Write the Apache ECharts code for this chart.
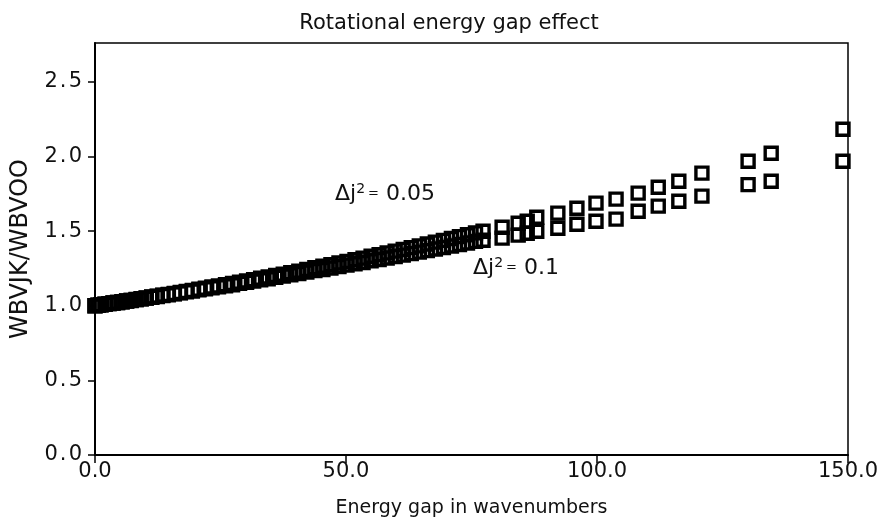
<!DOCTYPE html>
<html>
<head>
<meta charset="utf-8">
<script src="https://cdn.jsdelivr.net/npm/echarts@6/dist/echarts.min.js"></script>
<style>html,body{margin:0;padding:0;background:#fff}#c{width:878px;height:517px}</style>
</head>
<body>
<div id="c"></div>
<script>
// Energy gap (wavenumbers)
var energyGap = [0, 0.6, 1.2, 2.0, 2.8, 3.6, 4.5, 5.4, 6.3, 7.2, 8.2, 9.2, 10.2, 11.3, 12.4, 13.5, 14.6, 15.8, 17.0, 18.2, 19.4, 20.7, 22.0, 23.3, 24.6, 26.0, 27.4, 28.8, 30.2, 31.6, 33.0, 34.5, 36.0, 37.5, 39.0, 40.6, 42.2, 43.8, 45.4, 47.0, 48.6, 50.2, 51.8, 53.4, 55.0, 56.6, 58.2, 59.8, 61.4, 63.0, 64.6, 66.2, 67.8, 69.4, 71.0, 72.6, 74.2, 75.8,
  77.3, 81.1, 84.3, 86.1, 88.0, 92.2, 96.0, 99.8, 103.8, 108.2, 112.2, 116.3, 120.9, 130.1, 134.7, 149.0];
// WBVJK/WBVOO for delta j^2 = 0.05
var ratio005 = [1.000, 1.003, 1.006, 1.010, 1.014, 1.018, 1.022, 1.027, 1.032, 1.036, 1.042, 1.047, 1.052, 1.058, 1.064, 1.070, 1.076, 1.082, 1.089, 1.096, 1.103, 1.110, 1.118, 1.125, 1.133, 1.141, 1.149, 1.158, 1.166, 1.175, 1.184, 1.193, 1.203, 1.212, 1.222, 1.232, 1.243, 1.254, 1.264, 1.275, 1.286, 1.297, 1.308, 1.319, 1.331, 1.342, 1.354, 1.366, 1.377, 1.389, 1.401, 1.413, 1.426, 1.438, 1.450, 1.463, 1.475, 1.488,
  1.499, 1.526, 1.553, 1.566, 1.593, 1.620, 1.653, 1.687, 1.714, 1.754, 1.794, 1.834, 1.888, 1.968, 2.021, 2.182];
// WBVJK/WBVOO for delta j^2 = 0.1
var ratio01 = [1.000, 1.003, 1.006, 1.010, 1.014, 1.018, 1.022, 1.027, 1.032, 1.035, 1.041, 1.046, 1.051, 1.057, 1.062, 1.068, 1.074, 1.080, 1.086, 1.093, 1.099, 1.106, 1.113, 1.120, 1.127, 1.134, 1.141, 1.150, 1.157, 1.165, 1.173, 1.181, 1.190, 1.198, 1.207, 1.216, 1.225, 1.235, 1.243, 1.253, 1.262, 1.272, 1.281, 1.290, 1.301, 1.310, 1.320, 1.330, 1.339, 1.349, 1.359, 1.369, 1.380, 1.390, 1.400, 1.410, 1.420, 1.431,
  1.439, 1.453, 1.473, 1.486, 1.499, 1.519, 1.546, 1.566, 1.580, 1.633, 1.667, 1.700, 1.734, 1.811, 1.834, 1.968];
var xTicks = [0, 50, 100, 150];
var yTicks = [0, 0.5, 1.0, 1.5, 2.0, 2.5];

function pairs(xs, ys) { return xs.map(function (x, i) { return [x, ys[i]]; }); }
function spaced(s) { return s.split('').join('\u200A'); }

var FONT = 'DejaVu Sans';
var chart = echarts.init(document.getElementById('c'), null, {renderer: 'canvas'});
var markerStyle = {color: 'rgba(0,0,0,0)', borderColor: '#000', borderWidth: 3.4, opacity: 1};
var rich = {s: {fontSize: 14, verticalAlign: 'top', padding: [0, 3, 10, 0], fontFamily: FONT, color: '#111'},
            e: {fontSize: 13, fontFamily: FONT, color: '#111'}};
chart.setOption({
  animation: false,
  backgroundColor: '#fff',
  title: {
    text: 'Rotational energy gap effect',
    left: 444, textAlign: 'center', top: 8,
    textStyle: {fontFamily: FONT, fontSize: 21, fontWeight: 'normal', color: '#111'}
  },
  grid: {left: 95, right: 30, top: 43, bottom: 62, show: true, borderColor: '#000', borderWidth: 1.5,
    backgroundColor: 'transparent', containLabel: false, outerBoundsMode: 'none'},
  xAxis: {
    type: 'value', min: 0, max: 150, interval: 50,
    name: 'Energy gap in wavenumbers', nameLocation: 'middle', nameGap: 44,
    nameTextStyle: {fontFamily: FONT, fontSize: 19, color: '#111'},
    axisLine: {show: true, lineStyle: {color: '#000', width: 2}},
    axisTick: {show: true, inside: false, length: 8, lineStyle: {color: '#000', width: 1.5}},
    axisLabel: {fontFamily: FONT, fontSize: 21, color: '#111', margin: 6,
      formatter: function (v) { return xTicks.indexOf(v) >= 0 ? v.toFixed(1) : ''; }},
    splitLine: {show: false}
  },
  yAxis: {
    type: 'value', min: 0, max: 2.76, interval: 0.5,
    name: 'WBVJK/WBVOO', nameLocation: 'middle', nameGap: 62,
    nameTextStyle: {fontFamily: FONT, fontSize: 24, color: '#111'},
    axisLine: {show: true, lineStyle: {color: '#000', width: 2}},
    axisTick: {show: true, inside: false, length: 7, lineStyle: {color: '#000', width: 1.5}},
    axisLabel: {fontFamily: FONT, fontSize: 21, color: '#111', margin: 13, showMaxLabel: false,
      formatter: function (v) {
        var r = Math.round(v * 10) / 10;
        return yTicks.indexOf(r) >= 0 && Math.abs(r - v) < 1e-6 ? spaced(r.toFixed(1)) : '';
      }},
    splitLine: {show: false}
  },
  series: [
    {type: 'scatter', name: 'dj2=0.05', data: pairs(energyGap, ratio005), symbol: 'rect', symbolSize: 12, itemStyle: markerStyle, clip: false},
    {type: 'scatter', name: 'dj2=0.1', data: pairs(energyGap, ratio01), symbol: 'rect', symbolSize: 12, itemStyle: markerStyle, clip: false}
  ],
  graphic: [
    {type: 'text', left: 335, top: 182, style: {
      text: 'Δj{s|2}{e|=} 0.05', fill: '#111', font: '22px "DejaVu Sans"', rich: rich
    }},
    {type: 'text', left: 473, top: 256, style: {
      text: 'Δj{s|2}{e|=} 0.1', fill: '#111', font: '22px "DejaVu Sans"', rich: rich
    }}
  ]
});
</script>
</body>
</html>
